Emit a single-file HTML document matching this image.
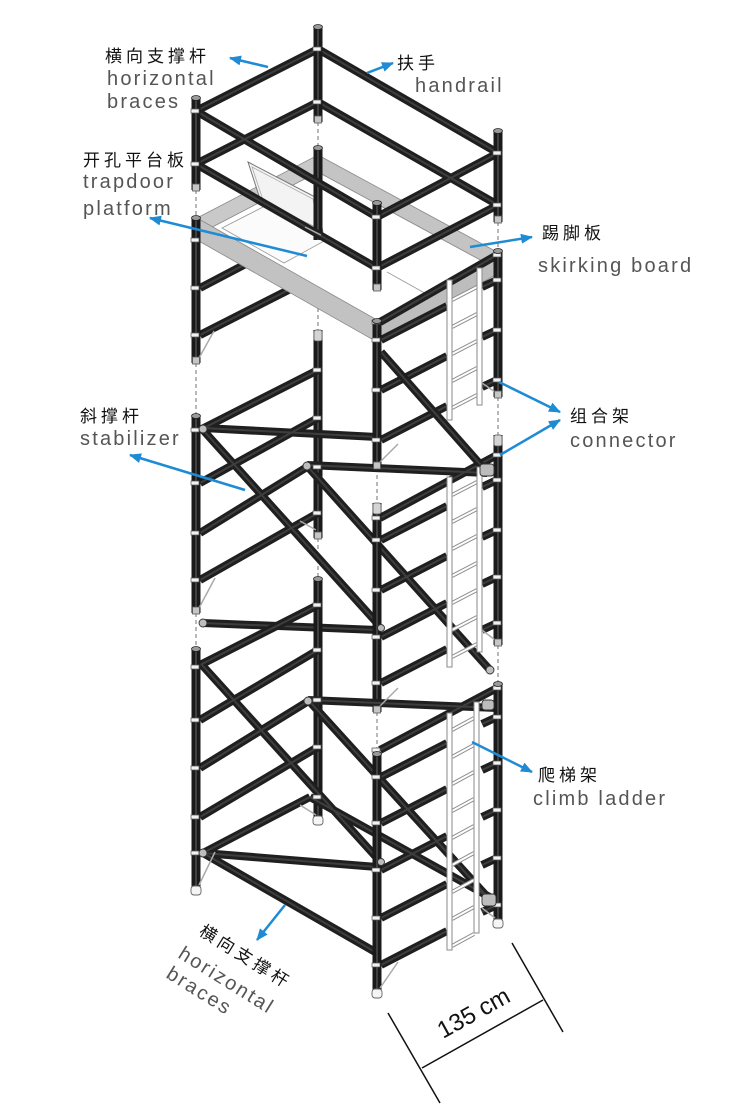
<!DOCTYPE html>
<html><head><meta charset="utf-8">
<style>
html,body{margin:0;padding:0;background:#fff;}
svg{display:block;}
.tb{fill:none;stroke:#1f1f1f;stroke-width:8;}
.th{fill:none;stroke:#3e3e3e;stroke-width:2;}
.pb{fill:none;stroke:#1a1a1a;stroke-width:9;}
.ph{fill:none;stroke:#404040;stroke-width:2;}
.cn{font-family:"Liberation Sans","Noto Sans CJK SC",sans-serif;font-size:17px;fill:#111;letter-spacing:4px;}
.en{font-family:"Liberation Sans",sans-serif;font-size:20px;fill:#555;letter-spacing:2.2px;}
.ar{stroke:#1e8bd4;stroke-width:2.5;fill:none;marker-end:url(#ah);}
.lr{fill:#fff;stroke:#8a8a8a;stroke-width:1;}
.lro{fill:none;stroke:#8e8e8e;stroke-width:4;}
.lri{fill:none;stroke:#fff;stroke-width:2;}
</style></head><body>
<svg width="750" height="1113" viewBox="0 0 750 1113" xmlns="http://www.w3.org/2000/svg">
<defs>
<marker id="ah" markerUnits="userSpaceOnUse" markerWidth="12" markerHeight="10" refX="11" refY="5" orient="auto"><path d="M0,0 L12,5 L0,10 z" fill="#1e8bd4"/></marker>
<path id="s1b" d="M200,288L318,226M200,335L318,275"/>
<path id="a1" d="M318,147V240"/>
<path id="s0r" d="M318,49L196,111M318,102L196,164M318,49L498,153M318,102L498,205M196,111L377,217M196,164L377,268M377,217L498,153M377,268L498,205"/>
<path id="s0p" d="M318,26V122M196,97V190M498,130V222M377,202V290"/>
<path id="s1f" d="M380,322L497,255M381,340L447,306M381,390L447,356M381,440L447,406M482,287L497,280M482,337L497,330M482,387L497,380"/>
<path id="s1d" d="M381,352L487,472"/>
<path id="s1p" d="M196,217V363M377,320V468M498,250V397"/>
<path id="s2a" d="M318,330V538"/>
<path id="s2r" d="M200,430L318,370M200,483L318,418M200,533L307,467M200,580L318,513M203,428L377,437M307,465L487,473M203,623L377,630M203,430L377,623M308,467L490,670M380,518L497,455M381,540L447,506M381,590L447,556M381,637L447,603M381,683L447,649M482,487L497,480M482,537L497,530M482,584L497,577M482,630L497,623"/>
<path id="s2p" d="M196,415V613M377,503V712M498,435V645"/>
<path id="s3a" d="M318,578V820"/>
<path id="s3r" d="M200,665L318,605M200,720L318,650M200,768L307,702M200,817L318,747M203,853L310,797M308,700L497,708M203,853L377,867M202,665L377,858M310,702L493,903M310,797L495,900M203,853L377,953M380,750L497,688M381,777L447,743M381,823L447,789M381,870L447,836M381,918L447,884M381,965L447,931M482,724L497,717M482,770L497,763M482,817L497,810M482,865L497,858M482,912L497,905"/>
<path id="s3p" d="M196,648V890M377,753V993M498,683V923"/>
</defs>

<path d="M196,190V217M196,363V415M196,613V648M318,122V147M318,308V330M318,538V578M377,290V320M377,468V503M377,712V753M498,222V250M498,397V435M498,645V683" stroke="#8a8a8a" stroke-width="1.2" stroke-dasharray="4,3" fill="none"/>

<use href="#s1b" class="tb"/><use href="#s1b" class="th"/>

<polygon points="197,235 318,172 497,269 377,337" fill="#fff" stroke="#999" stroke-width="0.8"/>
<polygon points="197,218 318,155 318,172 197,235" fill="#c9c9c9" stroke="#8a8a8a" stroke-width="0.8"/>
<polygon points="318,155 497,252 497,269 318,172" fill="#c4c4c4" stroke="#8a8a8a" stroke-width="0.8"/>
<polygon points="222,228 265,206 326,240 284,263" fill="#fbfbfb" stroke="#999" stroke-width="0.8"/>
<polygon points="248,162 317,198 323,233 262,205" fill="#f3f3f3" stroke="#777" stroke-width="1"/>
<polygon points="252,167 313,199 318,228 264,203" fill="none" stroke="#aaa" stroke-width="0.8"/>
<path d="M387,272L430,296M326,240L380,270" stroke="#999" stroke-width="0.8"/>
<polygon points="197,218 377,320 377,342 197,240" fill="#c2c2c2" stroke="#8a8a8a" stroke-width="0.8"/>
<polygon points="377,320 497,252 497,274 377,342" fill="#bdbdbd" stroke="#8a8a8a" stroke-width="0.8"/>

<use href="#a1" class="pb"/><use href="#a1" class="ph"/>

<use href="#s0r" class="tb"/><use href="#s0r" class="th"/>
<use href="#s0p" class="pb"/><use href="#s0p" class="ph"/>

<use href="#s2a" class="pb"/><use href="#s2a" class="ph"/>
<use href="#s2r" class="tb"/><use href="#s2r" class="th"/>

<use href="#s1f" class="tb"/><use href="#s1f" class="th"/>
<use href="#s1d" class="tb"/><use href="#s1d" class="th"/>
<use href="#s1p" class="pb"/><use href="#s1p" class="ph"/>
<use href="#s2p" class="pb"/><use href="#s2p" class="ph"/>

<use href="#s3a" class="pb"/><use href="#s3a" class="ph"/>
<use href="#s3r" class="tb"/><use href="#s3r" class="th"/>
<use href="#s3p" class="pb"/><use href="#s3p" class="ph"/>

<path d="M199,358L214,331M199,608L215,578M199,885L215,852M316,530L300,521M316,815L300,805M380,462L398,444M380,706L398,688M380,988L398,962M495,392L482,383M495,640L482,630M495,918L482,908M321,235L305,227" stroke="#aaa" stroke-width="1.5" fill="none"/>

<g>
<path class="lro" d="M452,300L477,287M452,327L477,314M452,354L477,341M452,381L477,368M452,408L477,395"/>
<path class="lri" d="M452,300L477,287M452,327L477,314M452,354L477,341M452,381L477,368M452,408L477,395"/>
<rect class="lr" x="447" y="280" width="5" height="140"/>
<rect class="lr" x="477" y="268" width="5" height="137"/>
<path class="lro" d="M452,495L477,482M452,522L477,509M452,549L477,536M452,576L477,563M452,603L477,590M452,630L477,617M452,657L477,644"/>
<path class="lri" d="M452,495L477,482M452,522L477,509M452,549L477,536M452,576L477,563M452,603L477,590M452,630L477,617M452,657L477,644"/>
<rect class="lr" x="447" y="477" width="5" height="190"/>
<rect class="lr" x="477" y="467" width="5" height="185"/>
<path class="lro" d="M452,730L474,718M452,757L474,745M452,784L474,772M452,811L474,799M452,838L474,826M452,865L474,853M452,892L474,880M452,919L474,907M452,946L474,934"/>
<path class="lri" d="M452,730L474,718M452,757L474,745M452,784L474,772M452,811L474,799M452,838L474,826M452,865L474,853M452,892L474,880M452,919L474,907M452,946L474,934"/>
<rect class="lr" x="447" y="713" width="5" height="237"/>
<rect class="lr" x="474" y="702" width="5" height="231"/>
</g>

<path fill="#f2f2f2" stroke="#555" stroke-width="0.7" d="M313,47h8v4h-8zM313,100h8v4h-8zM313,368h8v4h-8zM313,416h8v4h-8zM313,465h8v4h-8zM313,511h8v4h-8zM313,603h8v4h-8zM313,648h8v4h-8zM313,698h8v4h-8zM313,745h8v4h-8zM313,795h8v4h-8z
M191,109h8v4h-8zM191,162h8v4h-8zM191,238h8v4h-8zM191,286h8v4h-8zM191,333h8v4h-8zM191,428h8v4h-8zM191,481h8v4h-8zM191,531h8v4h-8zM191,578h8v4h-8zM191,665h8v4h-8zM191,718h8v4h-8zM191,766h8v4h-8zM191,815h8v4h-8zM191,851h8v4h-8z
M372,215h8v4h-8zM372,266h8v4h-8zM372,320h8v4h-8zM372,338h8v4h-8zM372,388h8v4h-8zM372,438h8v4h-8zM372,516h8v4h-8zM372,538h8v4h-8zM372,588h8v4h-8zM372,635h8v4h-8zM372,681h8v4h-8zM372,748h8v4h-8zM372,775h8v4h-8zM372,821h8v4h-8zM372,868h8v4h-8zM372,916h8v4h-8zM372,963h8v4h-8z
M493,151h8v4h-8zM493,203h8v4h-8zM493,253h8v4h-8zM493,278h8v4h-8zM493,328h8v4h-8zM493,378h8v4h-8zM493,453h8v4h-8zM493,478h8v4h-8zM493,528h8v4h-8zM493,575h8v4h-8zM493,621h8v4h-8zM493,686h8v4h-8zM493,715h8v4h-8zM493,761h8v4h-8zM493,808h8v4h-8zM493,856h8v4h-8zM493,903h8v4h-8z"/>

<g fill="#9a9a9a" stroke="#222" stroke-width="0.8">
<ellipse cx="318" cy="27" rx="4.5" ry="2.5"/><ellipse cx="196" cy="98" rx="4.5" ry="2.5"/><ellipse cx="498" cy="131" rx="4.5" ry="2.5"/><ellipse cx="377" cy="203" rx="4.5" ry="2.5"/>
<ellipse cx="318" cy="148" rx="4.5" ry="2.5"/><ellipse cx="196" cy="218" rx="4.5" ry="2.5"/><ellipse cx="498" cy="251" rx="4.5" ry="2.5"/><ellipse cx="377" cy="321" rx="4.5" ry="2.5"/>
<ellipse cx="196" cy="416" rx="4.5" ry="2.5"/><ellipse cx="318" cy="579" rx="4.5" ry="2.5"/><ellipse cx="196" cy="649" rx="4.5" ry="2.5"/><ellipse cx="377" cy="754" rx="4.5" ry="2.5"/><ellipse cx="498" cy="684" rx="4.5" ry="2.5"/>
</g>
<g fill="#d4d4d4" stroke="#555" stroke-width="0.8">
<rect x="314" y="330" width="8" height="11" rx="2"/><rect x="373" y="503" width="8" height="11" rx="2"/><rect x="494" y="435" width="8" height="11" rx="2"/>
</g>
<g fill="#c6c6c6" stroke="#555" stroke-width="0.8">
<rect x="314.5" y="116" width="7" height="7"/><rect x="192.5" y="184" width="7" height="7"/><rect x="494.5" y="216" width="7" height="7"/><rect x="373.5" y="284" width="7" height="7"/>
<rect x="192.5" y="357" width="7" height="7"/><rect x="494.5" y="391" width="7" height="7"/><rect x="373.5" y="462" width="7" height="7"/>
<rect x="314.5" y="532" width="7" height="7"/><rect x="192.5" y="607" width="7" height="7"/><rect x="494.5" y="639" width="7" height="7"/><rect x="373.5" y="706" width="7" height="7"/>
</g>
<g fill="#f5f5f5" stroke="#666" stroke-width="0.9">
<rect x="313" y="816" width="10" height="9" rx="3"/><rect x="191" y="886" width="10" height="9" rx="3"/><rect x="493" y="919" width="10" height="9" rx="3"/><rect x="372" y="989" width="10" height="9" rx="3"/>
</g>
<g fill="#bdbdbd" stroke="#333" stroke-width="0.9">
<circle cx="203" cy="429" r="4"/><circle cx="307" cy="466" r="4"/><circle cx="203" cy="623" r="4"/><circle cx="308" cy="701" r="4"/><circle cx="203" cy="853" r="4"/>
<circle cx="490" cy="670" r="4"/><circle cx="381" cy="628" r="3.5"/><circle cx="381" cy="862" r="3.5"/>
<rect x="480" y="464" width="14" height="12" rx="3"/><rect x="482" y="894" width="14" height="12" rx="3"/><rect x="482" y="700" width="12" height="10" rx="3"/>
</g>

<path d="M388,1013L440,1103M512,943L563,1032M422,1068L543,1000" stroke="#111" stroke-width="1.5" fill="none"/>
<text transform="translate(443,1039) rotate(-29)" font-family="Liberation Sans, sans-serif" font-size="24" fill="#111">135 cm</text>

<path class="ar" d="M268,67L230,58"/>
<path class="ar" d="M367,73L393,63"/>
<path class="ar" d="M307,256L150,218"/>
<path class="ar" d="M470,247L532,237"/>
<path class="ar" d="M499,382L560,412"/>
<path class="ar" d="M500,455L560,420"/>
<path class="ar" d="M245,490L130,455"/>
<path class="ar" d="M472,742L532,772"/>
<path class="ar" d="M285,905L257,940"/>

<text class="cn" x="105" y="62">横向支撑杆</text>
<text class="en" x="107" y="85">horizontal</text>
<text class="en" x="107" y="108">braces</text>
<text class="cn" x="83" y="166">开孔平台板</text>
<text class="en" x="83" y="188">trapdoor</text>
<text class="en" x="83" y="215">platform</text>
<text class="cn" x="397" y="69">扶手</text>
<text class="en" x="415" y="92">handrail</text>
<text class="cn" x="542" y="239">踢脚板</text>
<text class="en" x="538" y="272">skirking board</text>
<text class="cn" x="570" y="422">组合架</text>
<text class="en" x="570" y="447">connector</text>
<text class="cn" x="80" y="422">斜撑杆</text>
<text class="en" x="80" y="445">stabilizer</text>
<text class="cn" x="538" y="781">爬梯架</text>
<text class="en" x="533" y="805">climb ladder</text>
<text class="cn" transform="translate(198,934) rotate(32)">横向支撑杆</text>
<text class="en" transform="translate(177,957) rotate(32)">horizontal</text>
<text class="en" transform="translate(165,977) rotate(32)">braces</text>
</svg>
</body></html>
